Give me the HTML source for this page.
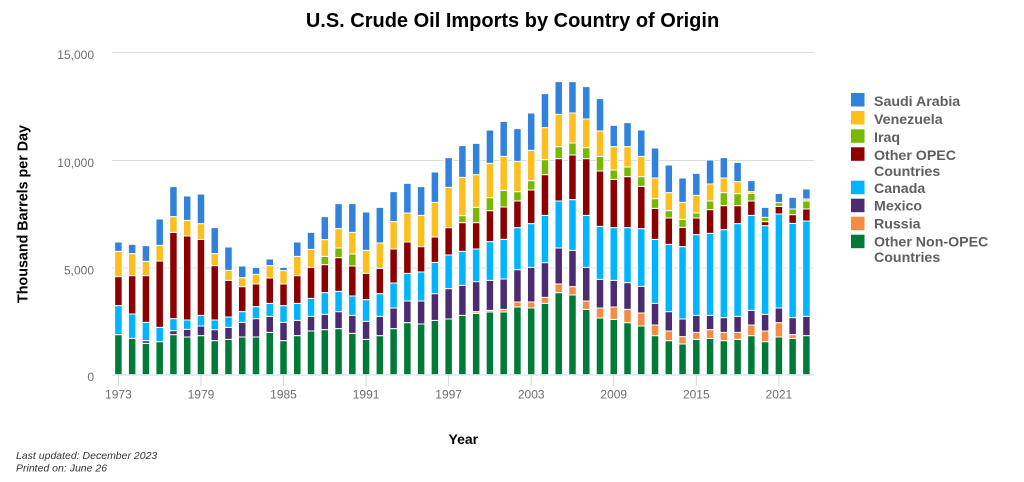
<!DOCTYPE html>
<html><head><meta charset="utf-8">
<style>
html,body{margin:0;padding:0;background:#fff;}
svg{display:block;font-family:"Liberation Sans",Arial,sans-serif;}
.b path{stroke:#fff;stroke-width:1;vector-effect:non-scaling-stroke;}
.g{fill:#007a37}.r{fill:#f48c44}.m{fill:#4b2c72}.c{fill:#00b4ff}.o{fill:#8c0000}.i{fill:#78b800}.v{fill:#fcbf1e}.s{fill:#3182dc}
.tl{fill:#6e6e6e;font-size:12px;}
.lg{fill:#5f5f5f;font-size:14.2px;font-weight:bold;}
</style></head><body>
<svg width="1024" height="482" viewBox="0 0 1024 482" xmlns="http://www.w3.org/2000/svg">
<rect width="1024" height="482" fill="#fff"/>
<text x="512.5" y="27" text-anchor="middle" font-size="20" font-weight="bold" fill="#000">U.S. Crude Oil Imports by Country of Origin</text>

<!-- gridlines -->
<g stroke="#dcdcdc" stroke-width="1">
<line x1="112" y1="52.5" x2="814" y2="52.5"/>
<line x1="112" y1="160.5" x2="814" y2="160.5"/>
<line x1="112" y1="268" x2="814" y2="268"/>
</g>

<!-- y labels -->
<text class="tl" x="94" y="59" text-anchor="end">15,000</text>
<text class="tl" x="94" y="167" text-anchor="end">10,000</text>
<text class="tl" x="94" y="274.5" text-anchor="end">5,000</text>
<text class="tl" x="94" y="381" text-anchor="end">0</text>

<text transform="translate(27.5,214) rotate(-90)" text-anchor="middle" font-size="14.3" font-weight="bold" fill="#000">Thousand Barrels per Day</text>

<!-- bars -->
<g class="b" transform="translate(-0.25,40) scale(1,0.3333333)">
<g transform="translate(114.9,0)"><path class="g" d="M0 884h7.5V1004h-7.5z"/><path class="c" d="M0 797h7.5V884h-7.5z"/><path class="o" d="M0 710h7.5V797h-7.5z"/><path class="v" d="M0 634h7.5V710h-7.5z"/><path class="s" d="M0 606h7.5V634h-7.5z"/></g>
<g transform="translate(128.66,0)"><path class="g" d="M0 895h7.5V1004h-7.5z"/><path class="c" d="M0 822h7.5V895h-7.5z"/><path class="o" d="M0 707h7.5V822h-7.5z"/><path class="v" d="M0 641h7.5V707h-7.5z"/><path class="s" d="M0 613h7.5V641h-7.5z"/></g>
<g transform="translate(142.42,0)"><path class="g" d="M0 910h7.5V1004h-7.5z"/><path class="m" d="M0 902h7.5V910h-7.5z"/><path class="c" d="M0 847h7.5V902h-7.5z"/><path class="o" d="M0 707h7.5V847h-7.5z"/><path class="v" d="M0 664h7.5V707h-7.5z"/><path class="s" d="M0 617h7.5V664h-7.5z"/></g>
<g transform="translate(156.18,0)"><path class="g" d="M0 905h7.5V1004h-7.5z"/><path class="c" d="M0 862h7.5V905h-7.5z"/><path class="o" d="M0 663h7.5V862h-7.5z"/><path class="v" d="M0 616h7.5V663h-7.5z"/><path class="s" d="M0 537h7.5V616h-7.5z"/></g>
<g transform="translate(169.94,0)"><path class="g" d="M0 884h7.5V1004h-7.5z"/><path class="m" d="M0 872h7.5V884h-7.5z"/><path class="c" d="M0 836h7.5V872h-7.5z"/><path class="o" d="M0 577h7.5V836h-7.5z"/><path class="v" d="M0 530h7.5V577h-7.5z"/><path class="s" d="M0 440h7.5V530h-7.5z"/></g>
<g transform="translate(183.7,0)"><path class="g" d="M0 891h7.5V1004h-7.5z"/><path class="m" d="M0 868h7.5V891h-7.5z"/><path class="c" d="M0 840h7.5V868h-7.5z"/><path class="o" d="M0 588h7.5V840h-7.5z"/><path class="v" d="M0 541h7.5V588h-7.5z"/><path class="s" d="M0 468h7.5V541h-7.5z"/></g>
<g transform="translate(197.46,0)"><path class="g" d="M0 887h7.5V1004h-7.5z"/><path class="m" d="M0 858h7.5V887h-7.5z"/><path class="c" d="M0 826h7.5V858h-7.5z"/><path class="o" d="M0 598h7.5V826h-7.5z"/><path class="v" d="M0 551h7.5V598h-7.5z"/><path class="s" d="M0 462h7.5V551h-7.5z"/></g>
<g transform="translate(211.22,0)"><path class="g" d="M0 902h7.5V1004h-7.5z"/><path class="m" d="M0 869h7.5V902h-7.5z"/><path class="c" d="M0 840h7.5V869h-7.5z"/><path class="o" d="M0 677h7.5V840h-7.5z"/><path class="v" d="M0 641h7.5V677h-7.5z"/><path class="s" d="M0 563h7.5V641h-7.5z"/></g>
<g transform="translate(224.98,0)"><path class="g" d="M0 898h7.5V1004h-7.5z"/><path class="m" d="M0 862h7.5V898h-7.5z"/><path class="c" d="M0 831h7.5V862h-7.5z"/><path class="o" d="M0 721h7.5V831h-7.5z"/><path class="v" d="M0 691h7.5V721h-7.5z"/><path class="s" d="M0 621h7.5V691h-7.5z"/></g>
<g transform="translate(238.74,0)"><path class="g" d="M0 891h7.5V1004h-7.5z"/><path class="m" d="M0 847h7.5V891h-7.5z"/><path class="c" d="M0 815h7.5V847h-7.5z"/><path class="o" d="M0 740h7.5V815h-7.5z"/><path class="v" d="M0 713h7.5V740h-7.5z"/><path class="s" d="M0 678h7.5V713h-7.5z"/></g>
<g transform="translate(252.5,0)"><path class="g" d="M0 891h7.5V1004h-7.5z"/><path class="m" d="M0 836h7.5V891h-7.5z"/><path class="c" d="M0 800h7.5V836h-7.5z"/><path class="o" d="M0 732h7.5V800h-7.5z"/><path class="v" d="M0 703h7.5V732h-7.5z"/><path class="s" d="M0 682h7.5V703h-7.5z"/></g>
<g transform="translate(266.26,0)"><path class="g" d="M0 877h7.5V1004h-7.5z"/><path class="m" d="M0 829h7.5V877h-7.5z"/><path class="c" d="M0 790h7.5V829h-7.5z"/><path class="o" d="M0 714h7.5V790h-7.5z"/><path class="v" d="M0 677h7.5V714h-7.5z"/><path class="s" d="M0 657h7.5V677h-7.5z"/></g>
<g transform="translate(280.02,0)"><path class="g" d="M0 902h7.5V1004h-7.5z"/><path class="m" d="M0 847h7.5V902h-7.5z"/><path class="c" d="M0 797h7.5V847h-7.5z"/><path class="o" d="M0 732h7.5V797h-7.5z"/><path class="v" d="M0 692h7.5V732h-7.5z"/><path class="s" d="M0 682h7.5V692h-7.5z"/></g>
<g transform="translate(293.78,0)"><path class="g" d="M0 887h7.5V1004h-7.5z"/><path class="m" d="M0 841h7.5V887h-7.5z"/><path class="c" d="M0 790h7.5V841h-7.5z"/><path class="o" d="M0 707h7.5V790h-7.5z"/><path class="v" d="M0 649h7.5V707h-7.5z"/><path class="s" d="M0 606h7.5V649h-7.5z"/></g>
<g transform="translate(307.54,0)"><path class="g" d="M0 873h7.5V1004h-7.5z"/><path class="m" d="M0 829h7.5V873h-7.5z"/><path class="c" d="M0 775h7.5V829h-7.5z"/><path class="o" d="M0 682h7.5V775h-7.5z"/><path class="v" d="M0 628h7.5V682h-7.5z"/><path class="s" d="M0 577h7.5V628h-7.5z"/></g>
<g transform="translate(321.3,0)"><path class="g" d="M0 869h7.5V1004h-7.5z"/><path class="m" d="M0 823h7.5V869h-7.5z"/><path class="c" d="M0 758h7.5V823h-7.5z"/><path class="o" d="M0 674h7.5V758h-7.5z"/><path class="i" d="M0 649h7.5V674h-7.5z"/><path class="v" d="M0 599h7.5V649h-7.5z"/><path class="s" d="M0 530h7.5V599h-7.5z"/></g>
<g transform="translate(335.06,0)"><path class="g" d="M0 866h7.5V1004h-7.5z"/><path class="m" d="M0 815h7.5V866h-7.5z"/><path class="c" d="M0 754h7.5V815h-7.5z"/><path class="o" d="M0 653h7.5V754h-7.5z"/><path class="i" d="M0 624h7.5V653h-7.5z"/><path class="v" d="M0 566h7.5V624h-7.5z"/><path class="s" d="M0 491h7.5V566h-7.5z"/></g>
<g transform="translate(348.82,0)"><path class="g" d="M0 880h7.5V1004h-7.5z"/><path class="m" d="M0 826h7.5V880h-7.5z"/><path class="c" d="M0 768h7.5V826h-7.5z"/><path class="o" d="M0 678h7.5V768h-7.5z"/><path class="i" d="M0 642h7.5V678h-7.5z"/><path class="v" d="M0 577h7.5V642h-7.5z"/><path class="s" d="M0 491h7.5V577h-7.5z"/></g>
<g transform="translate(362.58,0)"><path class="g" d="M0 898h7.5V1004h-7.5z"/><path class="m" d="M0 844h7.5V898h-7.5z"/><path class="c" d="M0 779h7.5V844h-7.5z"/><path class="o" d="M0 700h7.5V779h-7.5z"/><path class="v" d="M0 631h7.5V700h-7.5z"/><path class="s" d="M0 516h7.5V631h-7.5z"/></g>
<g transform="translate(376.34,0)"><path class="g" d="M0 887h7.5V1004h-7.5z"/><path class="m" d="M0 829h7.5V887h-7.5z"/><path class="c" d="M0 761h7.5V829h-7.5z"/><path class="o" d="M0 685h7.5V761h-7.5z"/><path class="v" d="M0 609h7.5V685h-7.5z"/><path class="s" d="M0 502h7.5V609h-7.5z"/></g>
<g transform="translate(390.1,0)"><path class="g" d="M0 866h7.5V1004h-7.5z"/><path class="m" d="M0 804h7.5V866h-7.5z"/><path class="c" d="M0 729h7.5V804h-7.5z"/><path class="o" d="M0 627h7.5V729h-7.5z"/><path class="v" d="M0 545h7.5V627h-7.5z"/><path class="s" d="M0 455h7.5V545h-7.5z"/></g>
<g transform="translate(403.86,0)"><path class="g" d="M0 848h7.5V1004h-7.5z"/><path class="m" d="M0 783h7.5V848h-7.5z"/><path class="c" d="M0 700h7.5V783h-7.5z"/><path class="o" d="M0 606h7.5V700h-7.5z"/><path class="v" d="M0 519h7.5V606h-7.5z"/><path class="s" d="M0 430h7.5V519h-7.5z"/></g>
<g transform="translate(417.62,0)"><path class="g" d="M0 852h7.5V1004h-7.5z"/><path class="m" d="M0 783h7.5V852h-7.5z"/><path class="c" d="M0 696h7.5V783h-7.5z"/><path class="o" d="M0 620h7.5V696h-7.5z"/><path class="v" d="M0 526h7.5V620h-7.5z"/><path class="s" d="M0 440h7.5V526h-7.5z"/></g>
<g transform="translate(431.38,0)"><path class="g" d="M0 841h7.5V1004h-7.5z"/><path class="m" d="M0 761h7.5V841h-7.5z"/><path class="c" d="M0 667h7.5V761h-7.5z"/><path class="o" d="M0 591h7.5V667h-7.5z"/><path class="v" d="M0 487h7.5V591h-7.5z"/><path class="s" d="M0 396h7.5V487h-7.5z"/></g>
<g transform="translate(445.14,0)"><path class="g" d="M0 837h7.5V1004h-7.5z"/><path class="m" d="M0 746h7.5V837h-7.5z"/><path class="c" d="M0 645h7.5V746h-7.5z"/><path class="o" d="M0 563h7.5V645h-7.5z"/><path class="v" d="M0 442h7.5V563h-7.5z"/><path class="s" d="M0 353h7.5V442h-7.5z"/></g>
<g transform="translate(458.9,0)"><path class="g" d="M0 826h7.5V1004h-7.5z"/><path class="m" d="M0 736h7.5V826h-7.5z"/><path class="c" d="M0 634h7.5V736h-7.5z"/><path class="o" d="M0 548h7.5V634h-7.5z"/><path class="i" d="M0 527h7.5V548h-7.5z"/><path class="v" d="M0 412h7.5V527h-7.5z"/><path class="s" d="M0 317h7.5V412h-7.5z"/></g>
<g transform="translate(472.66,0)"><path class="g" d="M0 820h7.5V1004h-7.5z"/><path class="r" d="M0 815h7.5V820h-7.5z"/><path class="m" d="M0 725h7.5V815h-7.5z"/><path class="c" d="M0 627h7.5V725h-7.5z"/><path class="o" d="M0 548h7.5V627h-7.5z"/><path class="i" d="M0 502h7.5V548h-7.5z"/><path class="v" d="M0 404h7.5V502h-7.5z"/><path class="s" d="M0 310h7.5V404h-7.5z"/></g>
<g transform="translate(486.42,0)"><path class="g" d="M0 816h7.5V1004h-7.5z"/><path class="r" d="M0 811h7.5V816h-7.5z"/><path class="m" d="M0 721h7.5V811h-7.5z"/><path class="c" d="M0 605h7.5V721h-7.5z"/><path class="o" d="M0 512h7.5V605h-7.5z"/><path class="i" d="M0 473h7.5V512h-7.5z"/><path class="v" d="M0 370h7.5V473h-7.5z"/><path class="s" d="M0 270h7.5V370h-7.5z"/></g>
<g transform="translate(500.18,0)"><path class="g" d="M0 816h7.5V1004h-7.5z"/><path class="r" d="M0 808h7.5V816h-7.5z"/><path class="m" d="M0 717h7.5V808h-7.5z"/><path class="c" d="M0 598h7.5V717h-7.5z"/><path class="o" d="M0 501h7.5V598h-7.5z"/><path class="i" d="M0 451h7.5V501h-7.5z"/><path class="v" d="M0 349h7.5V451h-7.5z"/><path class="s" d="M0 244h7.5V349h-7.5z"/></g>
<g transform="translate(513.94,0)"><path class="g" d="M0 801h7.5V1004h-7.5z"/><path class="r" d="M0 786h7.5V801h-7.5z"/><path class="m" d="M0 689h7.5V786h-7.5z"/><path class="c" d="M0 563h7.5V689h-7.5z"/><path class="o" d="M0 483h7.5V563h-7.5z"/><path class="i" d="M0 455h7.5V483h-7.5z"/><path class="v" d="M0 364h7.5V455h-7.5z"/><path class="s" d="M0 266h7.5V364h-7.5z"/></g>
<g transform="translate(527.7,0)"><path class="g" d="M0 804h7.5V1004h-7.5z"/><path class="r" d="M0 786h7.5V804h-7.5z"/><path class="m" d="M0 682h7.5V786h-7.5z"/><path class="c" d="M0 551h7.5V682h-7.5z"/><path class="o" d="M0 450h7.5V551h-7.5z"/><path class="i" d="M0 422h7.5V450h-7.5z"/><path class="v" d="M0 331h7.5V422h-7.5z"/><path class="s" d="M0 219h7.5V331h-7.5z"/></g>
<g transform="translate(541.46,0)"><path class="g" d="M0 790h7.5V1004h-7.5z"/><path class="r" d="M0 772h7.5V790h-7.5z"/><path class="m" d="M0 668h7.5V772h-7.5z"/><path class="c" d="M0 526h7.5V668h-7.5z"/><path class="o" d="M0 404h7.5V526h-7.5z"/><path class="i" d="M0 359h7.5V404h-7.5z"/><path class="v" d="M0 263h7.5V359h-7.5z"/><path class="s" d="M0 161h7.5V263h-7.5z"/></g>
<g transform="translate(555.22,0)"><path class="g" d="M0 758h7.5V1004h-7.5z"/><path class="r" d="M0 732h7.5V758h-7.5z"/><path class="m" d="M0 624h7.5V732h-7.5z"/><path class="c" d="M0 483h7.5V624h-7.5z"/><path class="o" d="M0 356h7.5V483h-7.5z"/><path class="i" d="M0 320h7.5V356h-7.5z"/><path class="v" d="M0 223h7.5V320h-7.5z"/><path class="s" d="M0 125h7.5V223h-7.5z"/></g>
<g transform="translate(568.98,0)"><path class="g" d="M0 765h7.5V1004h-7.5z"/><path class="r" d="M0 740h7.5V765h-7.5z"/><path class="m" d="M0 631h7.5V740h-7.5z"/><path class="c" d="M0 479h7.5V631h-7.5z"/><path class="o" d="M0 345h7.5V479h-7.5z"/><path class="i" d="M0 309h7.5V345h-7.5z"/><path class="v" d="M0 219h7.5V309h-7.5z"/><path class="s" d="M0 125h7.5V219h-7.5z"/></g>
<g transform="translate(582.74,0)"><path class="g" d="M0 808h7.5V1004h-7.5z"/><path class="r" d="M0 783h7.5V808h-7.5z"/><path class="m" d="M0 682h7.5V783h-7.5z"/><path class="c" d="M0 526h7.5V682h-7.5z"/><path class="o" d="M0 356h7.5V526h-7.5z"/><path class="i" d="M0 323h7.5V356h-7.5z"/><path class="v" d="M0 237h7.5V323h-7.5z"/><path class="s" d="M0 140h7.5V237h-7.5z"/></g>
<g transform="translate(596.5,0)"><path class="g" d="M0 834h7.5V1004h-7.5z"/><path class="r" d="M0 804h7.5V834h-7.5z"/><path class="m" d="M0 718h7.5V804h-7.5z"/><path class="c" d="M0 559h7.5V718h-7.5z"/><path class="o" d="M0 393h7.5V559h-7.5z"/><path class="i" d="M0 349h7.5V393h-7.5z"/><path class="v" d="M0 273h7.5V349h-7.5z"/><path class="s" d="M0 176h7.5V273h-7.5z"/></g>
<g transform="translate(610.26,0)"><path class="g" d="M0 838h7.5V1004h-7.5z"/><path class="r" d="M0 801h7.5V838h-7.5z"/><path class="m" d="M0 721h7.5V801h-7.5z"/><path class="c" d="M0 563h7.5V721h-7.5z"/><path class="o" d="M0 418h7.5V563h-7.5z"/><path class="i" d="M0 390h7.5V418h-7.5z"/><path class="v" d="M0 320h7.5V390h-7.5z"/><path class="s" d="M0 256h7.5V320h-7.5z"/></g>
<g transform="translate(624.02,0)"><path class="g" d="M0 848h7.5V1004h-7.5z"/><path class="r" d="M0 808h7.5V848h-7.5z"/><path class="m" d="M0 728h7.5V808h-7.5z"/><path class="c" d="M0 563h7.5V728h-7.5z"/><path class="o" d="M0 410h7.5V563h-7.5z"/><path class="i" d="M0 381h7.5V410h-7.5z"/><path class="v" d="M0 320h7.5V381h-7.5z"/><path class="s" d="M0 248h7.5V320h-7.5z"/></g>
<g transform="translate(637.78,0)"><path class="g" d="M0 858h7.5V1004h-7.5z"/><path class="r" d="M0 819h7.5V858h-7.5z"/><path class="m" d="M0 739h7.5V819h-7.5z"/><path class="c" d="M0 566h7.5V739h-7.5z"/><path class="o" d="M0 439h7.5V566h-7.5z"/><path class="i" d="M0 410h7.5V439h-7.5z"/><path class="v" d="M0 349h7.5V410h-7.5z"/><path class="s" d="M0 270h7.5V349h-7.5z"/></g>
<g transform="translate(651.54,0)"><path class="g" d="M0 887h7.5V1004h-7.5z"/><path class="r" d="M0 855h7.5V887h-7.5z"/><path class="m" d="M0 790h7.5V855h-7.5z"/><path class="c" d="M0 598h7.5V790h-7.5z"/><path class="o" d="M0 505h7.5V598h-7.5z"/><path class="i" d="M0 476h7.5V505h-7.5z"/><path class="v" d="M0 414h7.5V476h-7.5z"/><path class="s" d="M0 324h7.5V414h-7.5z"/></g>
<g transform="translate(665.3,0)"><path class="g" d="M0 902h7.5V1004h-7.5z"/><path class="r" d="M0 873h7.5V902h-7.5z"/><path class="m" d="M0 815h7.5V873h-7.5z"/><path class="c" d="M0 613h7.5V815h-7.5z"/><path class="o" d="M0 534h7.5V613h-7.5z"/><path class="i" d="M0 512h7.5V534h-7.5z"/><path class="v" d="M0 458h7.5V512h-7.5z"/><path class="s" d="M0 375h7.5V458h-7.5z"/></g>
<g transform="translate(679.06,0)"><path class="g" d="M0 912h7.5V1004h-7.5z"/><path class="r" d="M0 890h7.5V912h-7.5z"/><path class="m" d="M0 837h7.5V890h-7.5z"/><path class="c" d="M0 620h7.5V837h-7.5z"/><path class="o" d="M0 562h7.5V620h-7.5z"/><path class="i" d="M0 538h7.5V562h-7.5z"/><path class="v" d="M0 487h7.5V538h-7.5z"/><path class="s" d="M0 414h7.5V487h-7.5z"/></g>
<g transform="translate(692.82,0)"><path class="g" d="M0 898h7.5V1004h-7.5z"/><path class="r" d="M0 877h7.5V898h-7.5z"/><path class="m" d="M0 826h7.5V877h-7.5z"/><path class="c" d="M0 584h7.5V826h-7.5z"/><path class="o" d="M0 534h7.5V584h-7.5z"/><path class="i" d="M0 519h7.5V534h-7.5z"/><path class="v" d="M0 466h7.5V519h-7.5z"/><path class="s" d="M0 400h7.5V466h-7.5z"/></g>
<g transform="translate(706.58,0)"><path class="g" d="M0 895h7.5V1004h-7.5z"/><path class="r" d="M0 869h7.5V895h-7.5z"/><path class="m" d="M0 826h7.5V869h-7.5z"/><path class="c" d="M0 580h7.5V826h-7.5z"/><path class="o" d="M0 509h7.5V580h-7.5z"/><path class="i" d="M0 483h7.5V509h-7.5z"/><path class="v" d="M0 432h7.5V483h-7.5z"/><path class="s" d="M0 360h7.5V432h-7.5z"/></g>
<g transform="translate(720.34,0)"><path class="g" d="M0 902h7.5V1004h-7.5z"/><path class="r" d="M0 877h7.5V902h-7.5z"/><path class="m" d="M0 833h7.5V877h-7.5z"/><path class="c" d="M0 569h7.5V833h-7.5z"/><path class="o" d="M0 497h7.5V569h-7.5z"/><path class="i" d="M0 458h7.5V497h-7.5z"/><path class="v" d="M0 414h7.5V458h-7.5z"/><path class="s" d="M0 353h7.5V414h-7.5z"/></g>
<g transform="translate(734.1,0)"><path class="g" d="M0 898h7.5V1004h-7.5z"/><path class="r" d="M0 877h7.5V898h-7.5z"/><path class="m" d="M0 829h7.5V877h-7.5z"/><path class="c" d="M0 551h7.5V829h-7.5z"/><path class="o" d="M0 497h7.5V551h-7.5z"/><path class="i" d="M0 461h7.5V497h-7.5z"/><path class="v" d="M0 425h7.5V461h-7.5z"/><path class="s" d="M0 367h7.5V425h-7.5z"/></g>
<g transform="translate(747.86,0)"><path class="g" d="M0 887h7.5V1004h-7.5z"/><path class="r" d="M0 855h7.5V887h-7.5z"/><path class="m" d="M0 811h7.5V855h-7.5z"/><path class="c" d="M0 526h7.5V811h-7.5z"/><path class="o" d="M0 483h7.5V526h-7.5z"/><path class="i" d="M0 460h7.5V483h-7.5z"/><path class="v" d="M0 455h7.5V460h-7.5z"/><path class="s" d="M0 422h7.5V455h-7.5z"/></g>
<g transform="translate(761.62,0)"><path class="g" d="M0 905h7.5V1004h-7.5z"/><path class="r" d="M0 873h7.5V905h-7.5z"/><path class="m" d="M0 823h7.5V873h-7.5z"/><path class="c" d="M0 557h7.5V823h-7.5z"/><path class="o" d="M0 545h7.5V557h-7.5z"/><path class="i" d="M0 532h7.5V545h-7.5z"/><path class="s" d="M0 502h7.5V532h-7.5z"/></g>
<g transform="translate(775.38,0)"><path class="g" d="M0 891h7.5V1004h-7.5z"/><path class="r" d="M0 848h7.5V891h-7.5z"/><path class="m" d="M0 804h7.5V848h-7.5z"/><path class="c" d="M0 522h7.5V804h-7.5z"/><path class="o" d="M0 499h7.5V522h-7.5z"/><path class="i" d="M0 488h7.5V499h-7.5z"/><path class="s" d="M0 460h7.5V488h-7.5z"/></g>
<g transform="translate(789.14,0)"><path class="g" d="M0 895h7.5V1004h-7.5z"/><path class="r" d="M0 884h7.5V895h-7.5z"/><path class="m" d="M0 833h7.5V884h-7.5z"/><path class="c" d="M0 550h7.5V833h-7.5z"/><path class="o" d="M0 524h7.5V550h-7.5z"/><path class="i" d="M0 507h7.5V524h-7.5z"/><path class="s" d="M0 472h7.5V507h-7.5z"/></g>
<g transform="translate(802.9,0)"><path class="g" d="M0 887h7.5V1004h-7.5z"/><path class="m" d="M0 829h7.5V887h-7.5z"/><path class="c" d="M0 543h7.5V829h-7.5z"/><path class="o" d="M0 507h7.5V543h-7.5z"/><path class="i" d="M0 483h7.5V507h-7.5z"/><path class="v" d="M0 477h7.5V483h-7.5z"/><path class="s" d="M0 447h7.5V477h-7.5z"/></g>
</g>

<!-- x axis -->
<line x1="112" y1="375" x2="814" y2="375" stroke="#ccd6eb" stroke-width="1"/>
<g stroke="#ccd6eb" stroke-width="1">
<line x1="118.4" y1="375" x2="118.4" y2="386"/>
<line x1="200.96" y1="375" x2="200.96" y2="386"/>
<line x1="283.52" y1="375" x2="283.52" y2="386"/>
<line x1="366.08" y1="375" x2="366.08" y2="386"/>
<line x1="448.64" y1="375" x2="448.64" y2="386"/>
<line x1="531.2" y1="375" x2="531.2" y2="386"/>
<line x1="613.76" y1="375" x2="613.76" y2="386"/>
<line x1="696.32" y1="375" x2="696.32" y2="386"/>
<line x1="778.88" y1="375" x2="778.88" y2="386"/>
</g>
<g class="tl" text-anchor="middle">
<text x="118.4" y="398.5">1973</text>
<text x="200.96" y="398.5">1979</text>
<text x="283.52" y="398.5">1985</text>
<text x="366.08" y="398.5">1991</text>
<text x="448.64" y="398.5">1997</text>
<text x="531.2" y="398.5">2003</text>
<text x="613.76" y="398.5">2009</text>
<text x="696.32" y="398.5">2015</text>
<text x="778.88" y="398.5">2021</text>
</g>
<text x="463.3" y="444" text-anchor="middle" font-size="14" font-weight="bold" fill="#000">Year</text>

<!-- legend -->
<rect x="851" y="93" width="13.5" height="13.5" fill="#3182dc"/>
<rect x="851" y="111" width="13.5" height="13.5" fill="#fcbf1e"/>
<rect x="851" y="129.3" width="13.5" height="13.5" fill="#78b800"/>
<rect x="851" y="147.3" width="13.5" height="13.5" fill="#8c0000"/>
<rect x="851" y="180.7" width="13.5" height="13.5" fill="#00b4ff"/>
<rect x="851" y="198.7" width="13.5" height="13.5" fill="#4b2c72"/>
<rect x="851" y="216.7" width="13.5" height="13.5" fill="#f48c44"/>
<rect x="851" y="234.7" width="13.5" height="13.5" fill="#007a37"/>
<text class="lg" x="874" y="106">Saudi Arabia</text>
<text class="lg" x="874" y="124">Venezuela</text>
<text class="lg" x="874" y="142">Iraq</text>
<text class="lg" x="874" y="160">Other OPEC</text>
<text class="lg" x="874" y="176">Countries</text>
<text class="lg" x="874" y="193">Canada</text>
<text class="lg" x="874" y="210.5">Mexico</text>
<text class="lg" x="874" y="228.5">Russia</text>
<text class="lg" x="874" y="246.5">Other Non-OPEC</text>
<text class="lg" x="874" y="262">Countries</text>

<!-- footnote -->
<text x="16" y="459" font-size="10.5" font-style="italic" fill="#333">Last updated: December 2023</text>
<text x="16" y="471.7" font-size="10.5" font-style="italic" fill="#333">Printed on: June 26</text>
</svg>
</body></html>
